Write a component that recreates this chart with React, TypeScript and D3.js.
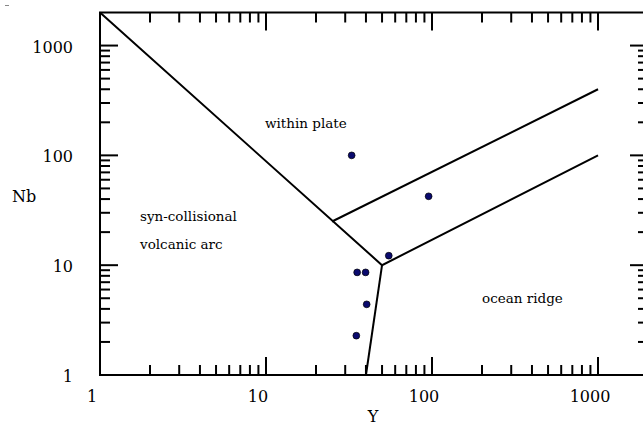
import React from "react";
import * as d3 from "d3";

const W = 643;
const H = 427;

const xMajorTicks = [1, 10, 100, 1000];
const yMajorTicks = [1, 10, 100, 1000];
const xTickLabels = ["1", "10", "100", "1000"];
const yTickLabels = ["1", "10", "100", "1000"];

// boundary lines (Pearce et al. 1984, Nb vs Y)
const lineA: [number, number][] = [[1, 2000], [50, 10], [1000, 100]];
const lineB: [number, number][] = [[50, 10], [40, 1]];
const lineC: [number, number][] = [[25, 25], [1000, 400]];

const sampleY = [32.8, 95.4, 54.9, 35.4, 39.8, 40.4, 35.0];
const sampleNb = [100, 42.4, 12.2, 8.6, 8.6, 4.4, 2.28];

const regionLabels = ["within plate", "syn-collisional", "volcanic arc", "ocean ridge"];
const regionX = [265, 140, 140, 482];
const regionY = [128, 221, 249, 303];

export default function App() {
  const left = 100, right = 648, top = 12.5, bottom = 375;
  const x = d3.scaleLog().domain([1, 2000]).range([left, right]);
  const y = d3.scaleLog().domain([1, 2000]).range([bottom, top]);

  const minor: number[] = [];
  for (const dec of [1, 10, 100, 1000]) {
    for (let k = 2; k <= 9; k++) {
      const v = dec * k;
      if (v < 2000) minor.push(v);
    }
  }

  const line = d3
    .line<[number, number]>()
    .x((d) => x(d[0]))
    .y((d) => y(d[1]));

  const font = "'DejaVu Serif', serif";
  const maj = 18, mn = 10, sw = 2;

  return (
    <svg width={W} height={H} style={{ position: "absolute", left: 0, top: 0 }}>
      <rect width={W} height={H} fill="#fff" />
      <line x1={5} x2={9} y1={5.5} y2={5.5} stroke="#888" strokeWidth={1} />
      {/* ticks */}
      <g stroke="#000" strokeWidth={sw}>
        {xMajorTicks.map((v) => (
          <g key={"xm" + v}>
            <line x1={x(v)} x2={x(v)} y1={bottom} y2={bottom - maj} />
            <line x1={x(v)} x2={x(v)} y1={top} y2={top + maj} />
          </g>
        ))}
        {minor.map((v) => (
          <g key={"xn" + v}>
            <line x1={x(v)} x2={x(v)} y1={bottom} y2={bottom - mn} />
            <line x1={x(v)} x2={x(v)} y1={top} y2={top + mn} />
          </g>
        ))}
        {yMajorTicks.map((v) => (
          <g key={"ym" + v}>
            <line x1={left} x2={left + maj} y1={y(v)} y2={y(v)} />
            <line x1={right} x2={right - maj} y1={y(v)} y2={y(v)} />
          </g>
        ))}
        {minor.map((v) => (
          <g key={"yn" + v}>
            <line x1={left} x2={left + mn} y1={y(v)} y2={y(v)} />
            <line x1={right} x2={right - mn} y1={y(v)} y2={y(v)} />
          </g>
        ))}
      </g>
      <rect x={left} y={top} width={right - left} height={bottom - top} fill="none" stroke="#000" strokeWidth={sw} />
      {/* boundaries */}
      <g fill="none" stroke="#000" strokeWidth={2}>
        <path d={line(lineA) || ""} />
        <path d={line(lineB) || ""} />
        <path d={line(lineC) || ""} />
      </g>
      {/* points */}
      {sampleY.map((v, i) => (
        <circle key={i} cx={x(v)} cy={y(sampleNb[i])} r={3.4} fill="#0a0a6e" stroke="#000" strokeWidth={0.7} />
      ))}
      {/* tick labels */}
      <g fontFamily={font} fontSize={16} fill="#000">
        {xMajorTicks.map((v, i) => (
          <text key={"xl" + v} x={x(v) - 8} y={396.5} textAnchor="middle" dominantBaseline="central">
            {xTickLabels[i]}
          </text>
        ))}
        {yMajorTicks.map((v, i) => (
          <text key={"yl" + v} x={73} y={y(v) + 1.5} textAnchor="end" dominantBaseline="central">
            {yTickLabels[i]}
          </text>
        ))}
        <text x={12} y={202}>Nb</text>
        <text x={373} y={422} textAnchor="middle">Y</text>
      </g>
      <g fontFamily={font} fontSize={13.5} fill="#000">
        {regionLabels.map((t, i) => (
          <text key={t} x={regionX[i]} y={regionY[i]}>{t}</text>
        ))}
      </g>
    </svg>
  );
}
